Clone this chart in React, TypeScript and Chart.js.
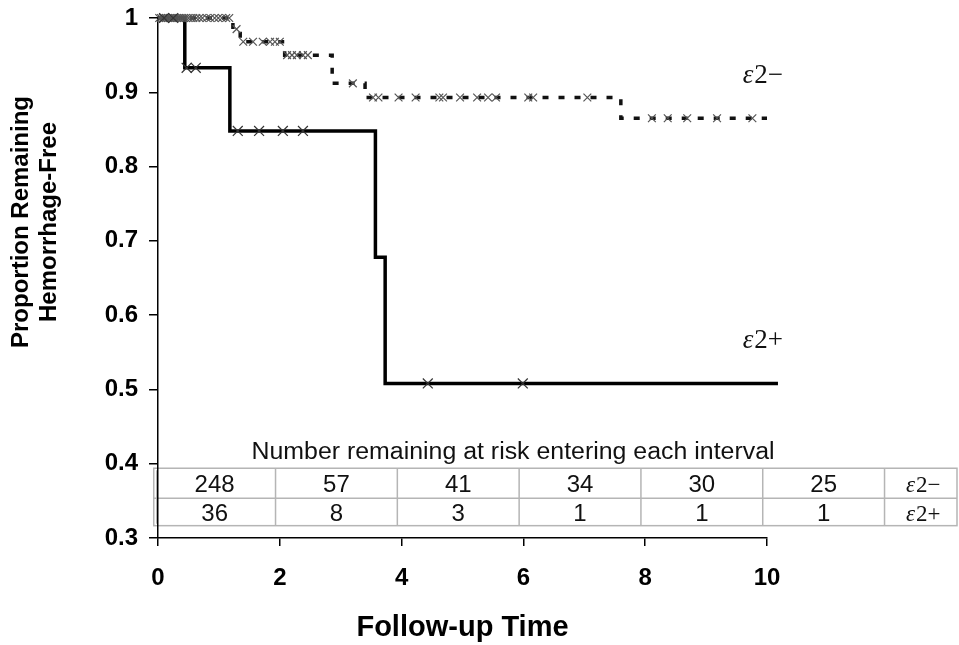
import React, { useEffect, useRef } from 'react';
import { Chart, registerables } from 'chart.js';

Chart.register(...registerables);

// ---- Data ----
const xTickValues = [0, 2, 4, 6, 8, 10];

// Kaplan-Meier step curves (time, proportion from that time onward)
const e2posTimes = [0, 0.44, 1.18, 3.57, 3.73, 10.18];
const e2posSurv = [1.0, 0.933, 0.848, 0.678, 0.508, 0.508];

const e2negTimes = [0, 1.23, 1.35, 2.08, 2.86, 3.4, 7.6, 10.0];
const e2negSurv = [1.0, 0.985, 0.968, 0.95, 0.912, 0.893, 0.865, 0.865];

// censored observations (times)
const e2posCensor = [0.1, 0.25, 0.47, 0.62, 1.31, 1.66, 2.05, 2.38, 4.43, 5.99];
const e2negCensor = [
  0.02, 0.05, 0.08, 0.1, 0.13, 0.16, 0.19, 0.22, 0.25, 0.28, 0.31, 0.34, 0.37, 0.4,
  0.43, 0.46, 0.5, 0.54, 0.58, 0.63, 0.68, 0.73, 0.8, 0.86, 0.93, 0.99, 1.05, 1.12, 1.17,
  1.29, 1.4, 1.56, 1.72, 1.84, 1.92, 2.0, 2.12, 2.2, 2.28, 2.38, 2.46, 3.2,
  3.53, 3.62, 3.95, 4.23, 4.62, 4.68, 4.96, 5.24, 5.42, 5.55, 6.08, 6.16, 7.05,
  8.11, 8.37, 8.69, 9.18, 9.76,
];

// number at risk table
const intervalStarts = [0, 2, 4, 6, 8, 10];
const atRiskNeg = [248, 57, 41, 34, 30, 25];
const atRiskPos = [36, 8, 3, 1, 1, 1];
const groupSuffix = ['\u2212', '+'];
const tableTitle = 'Number remaining at risk entering each interval';
const yTitleLines = ['Proportion Remaining', 'Hemorrhage-Free'];
const xTitle = 'Follow-up Time';

const SANS = '"Liberation Sans", Arial, sans-serif';
const SERIF = '"Liberation Serif", "Times New Roman", serif';

function stepLevel(times: number[], surv: number[], t: number) {
  let s = surv[0];
  for (let i = 0; i < times.length; i++) if (times[i] <= t) s = surv[i];
  return s;
}

function drawEps(ctx: CanvasRenderingContext2D, x: number, y: number, suffix: string, size: number, align: 'left' | 'center') {
  ctx.save();
  ctx.fillStyle = '#111';
  ctx.textBaseline = 'alphabetic';
  ctx.textAlign = 'left';
  const f1 = `italic ${size}px ${SERIF}`;
  const f2 = `${size}px ${SERIF}`;
  ctx.font = f1;
  const w1 = ctx.measureText('\u03b5').width;
  ctx.font = f2;
  const w2 = ctx.measureText('2' + suffix).width;
  const x0 = align === 'center' ? x - (w1 + w2) / 2 : x;
  ctx.font = f1;
  ctx.fillText('\u03b5', x0, y);
  ctx.font = f2;
  ctx.fillText('2' + suffix, x0 + w1 + 1, y);
  ctx.restore();
}

const tablePlugin = {
  id: 'riskTable',
  beforeDraw(chart: any) {
    const { ctx, scales } = chart;
    const xs = scales.x;
    const ys = scales.y;
    const edges = intervalStarts.map((v) => xs.getPixelForValue(v - 0.07));
    edges.push(xs.getPixelForValue(12 - 0.07));
    const right = chart.width - 2;
    const yTop = ys.getPixelForValue(0.3939);
    const yMid = ys.getPixelForValue(0.3535);
    const yBot = ys.getPixelForValue(0.3166);
    ctx.save();
    ctx.strokeStyle = '#b5b5b5';
    ctx.lineWidth = 1.5;
    ctx.strokeRect(edges[0], yTop, right - edges[0], yBot - yTop);
    ctx.beginPath();
    ctx.moveTo(edges[0] + 3, yTop + 2);
    ctx.lineTo(edges[0] + 3, yBot - 2);
    ctx.moveTo(edges[0], yMid);
    ctx.lineTo(right, yMid);
    for (let i = 1; i < edges.length; i++) {
      ctx.moveTo(edges[i], yTop);
      ctx.lineTo(edges[i], yBot);
    }
    ctx.stroke();

    // header
    ctx.fillStyle = '#111';
    ctx.font = `23px ${SANS}`;
    ctx.textAlign = 'center';
    ctx.textBaseline = 'alphabetic';
    const w = ctx.measureText(tableTitle).width;
    const target = 523;
    ctx.save();
    ctx.translate(513, yTop - 9);
    ctx.scale(target / w, 1);
    ctx.fillText(tableTitle, 0, 0);
    ctx.restore();

    // numbers
    ctx.font = `24px ${SANS}`;
    const rows = [atRiskNeg, atRiskPos];
    const baselines = [yMid - 6, yBot - 5];
    rows.forEach((row, r) => {
      row.forEach((v, i) => {
        const cx = (edges[i] + edges[i + 1]) / 2;
        ctx.fillText(String(v), cx, baselines[r]);
      });
      const cx = (edges[edges.length - 1] + right) / 2;
      drawEps(ctx, cx + 2, baselines[r], groupSuffix[r], 23, 'center');
    });
    ctx.restore();
  },
  afterDraw(chart: any) {
    const { ctx, scales } = chart;
    const xs = scales.x;
    const ys = scales.y;
    // curve labels
    drawEps(ctx, xs.getPixelForValue(9.6), ys.getPixelForValue(0.9125), groupSuffix[0], 27, 'left');
    drawEps(ctx, xs.getPixelForValue(9.6), ys.getPixelForValue(0.556), groupSuffix[1], 27, 'left');
    // y axis title
    ctx.save();
    ctx.fillStyle = '#000';
    ctx.font = `bold 24px ${SANS}`;
    ctx.textAlign = 'center';
    ctx.textBaseline = 'alphabetic';
    const cy = 222;
    const bx = [28, 56];
    yTitleLines.forEach((line, i) => {
      ctx.save();
      ctx.translate(bx[i], cy);
      ctx.rotate(-Math.PI / 2);
      ctx.fillText(line, 0, 0);
      ctx.restore();
    });
    ctx.restore();
  },
};

export default function App() {
  const ref = useRef<HTMLCanvasElement | null>(null);
  useEffect(() => {
    if (!ref.current) return;
    const posLine = e2posTimes.map((t, i) => ({ x: t, y: e2posSurv[i] }));
    const negLine = e2negTimes.map((t, i) => ({ x: t, y: e2negSurv[i] }));
    const posCens = e2posCensor.map((t) => ({ x: t, y: stepLevel(e2posTimes, e2posSurv, t) }));
    const negCens = e2negCensor.map((t) => ({ x: t, y: stepLevel(e2negTimes, e2negSurv, t) }));
    const tickFont = { family: SANS, size: 24, weight: 'bold' as const };
    const chart = new Chart(ref.current, {
      type: 'line',
      data: {
        datasets: [
          {
            label: '\u03b52+',
            data: posLine,
            stepped: 'before',
            borderColor: '#000',
            borderWidth: 3.5,
            pointRadius: 0,
            fill: false,
            clip: false,
            order: 2,
            borderJoinStyle: 'miter',
          },
          {
            label: '\u03b52\u2212',
            data: negLine,
            stepped: 'before',
            borderColor: '#111',
            borderWidth: 3.5,
            borderDash: [6, 10],
            pointRadius: 0,
            fill: false,
            clip: false,
            order: 2,
          },
          {
            label: '\u03b52+ censored',
            data: posCens,
            showLine: false,
            pointStyle: 'crossRot',
            pointRadius: 7,
            pointBorderColor: '#333',
            pointBorderWidth: 1.2,
            order: 1,
            clip: false,
          },
          {
            label: '\u03b52\u2212 censored',
            data: negCens,
            showLine: false,
            pointStyle: 'crossRot',
            pointRadius: 5.5,
            pointBorderColor: '#555',
            pointBorderWidth: 1.2,
            order: 1,
            clip: false,
          },
        ] as any,
      },
      options: {
        responsive: false,
        animation: false,
        layout: { padding: { top: 18, right: 192, bottom: 0, left: 0 } },
        plugins: { legend: { display: false }, tooltip: { enabled: false }, title: { display: false } },
        scales: {
          x: {
            type: 'linear',
            min: 0,
            max: 10,
            afterBuildTicks: (s: any) => {
              s.ticks = xTickValues.map((v) => ({ value: v }));
            },
            ticks: { color: '#000', font: tickFont, padding: 18, maxRotation: 0, autoSkip: false },
            grid: { drawOnChartArea: false, drawTicks: true, tickLength: 8, color: '#000', lineWidth: 1.5 },
            border: { color: '#000', width: 1.5 },
            title: {
              display: true,
              text: xTitle,
              color: '#000',
              font: { family: SANS, size: 29, weight: 'bold' },
              padding: { top: 0, bottom: 0 },
            },
            afterFit: (s: any) => {
              s.height = 107;
              s.paddingLeft = 0;
              s.paddingRight = 0;
            },
          },
          y: {
            min: 0.3,
            max: 1.0,
            ticks: {
              stepSize: 0.1,
              color: '#000',
              font: tickFont,
              padding: 11,
              callback: (v: any) => String(Math.round(Number(v) * 10) / 10),
            },
            grid: { drawOnChartArea: false, drawTicks: true, tickLength: 9, color: '#000', lineWidth: 1.5 },
            border: { color: '#000', width: 1.5 },
            afterFit: (s: any) => {
              s.width = 158;
              s.paddingTop = 0;
              s.paddingBottom = 0;
            },
          },
        },
      } as any,
      plugins: [tablePlugin],
    });
    return () => chart.destroy();
  }, []);
  return (
    <div style={{ position: 'fixed', left: 0, top: 0, width: 959, height: 645, background: '#fff' }}>
      <canvas ref={ref} width={959} height={645} style={{ display: 'block' }} />
    </div>
  );
}
